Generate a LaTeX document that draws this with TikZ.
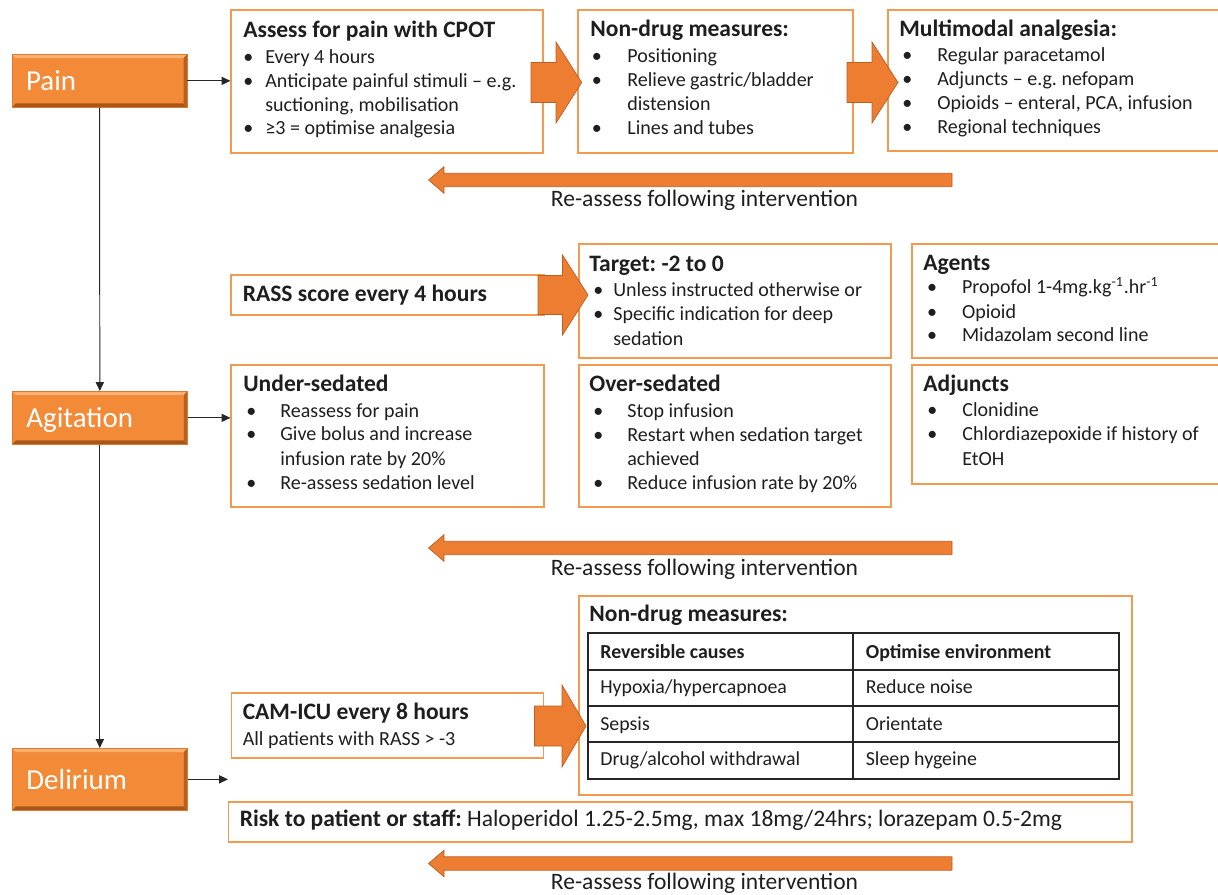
\documentclass[tikz,border=0pt]{standalone}
\usepackage{fontspec}
\setmainfont{Carlito}
\frenchspacing
\usetikzlibrary{arrows.meta,fit,calc}
\definecolor{rim}{HTML}{F39A52}
\definecolor{blk}{HTML}{ED7D31}
\definecolor{blkedge}{HTML}{B95F22}
\definecolor{tagmid}{HTML}{F28A38}
\definecolor{taghi}{HTML}{F8B070}
\definecolor{taglo}{HTML}{A9561B}
\definecolor{ink}{HTML}{1E1E1E}
\tikzset{
  panel/.style={draw=rim, line width=0.7pt, inner sep=0pt},
  tag/.style={draw=tagmid!70!taglo, line width=0.4pt, fill=tagmid,
    path picture={
      \fill[taghi] (path picture bounding box.north west) -- (path picture bounding box.north east)
        -- ([shift={(-2pt,-2.2pt)}]path picture bounding box.north east)
        -- ([shift={(2pt,-2.2pt)}]path picture bounding box.north west) -- cycle;
      \fill[taglo] (path picture bounding box.south west) -- (path picture bounding box.south east)
        -- ([shift={(-2pt,2.2pt)}]path picture bounding box.south east)
        -- ([shift={(2pt,2.2pt)}]path picture bounding box.south west) -- cycle;
      \fill[taglo!80!tagmid] (path picture bounding box.north east) -- (path picture bounding box.south east)
        -- ([shift={(-2pt,2.2pt)}]path picture bounding box.south east)
        -- ([shift={(-2pt,-2.2pt)}]path picture bounding box.north east) -- cycle;
    },
    text=white, anchor=north west, minimum width=3.5cm, inner xsep=0.28cm, inner ysep=0.21cm,
    text width=2.94cm, align=left, text height=0.52cm, text depth=0.12cm, font=\fontsize{16.5}{19}\selectfont},
  head/.style={anchor=base west, inner sep=0pt, text=ink, font=\fontsize{13.4}{15}\selectfont\bfseries},
  item/.style={anchor=base west, inner sep=0pt, text=ink, font=\fontsize{11.4}{13}\selectfont},
  cell/.style={anchor=base west, inner sep=0pt, text=ink, font=\fontsize{11.3}{13}\selectfont},
  note/.style={anchor=base, inner sep=0pt, text=ink, font=\fontsize{13.4}{15}\selectfont},
  link/.style={-{Triangle[length=5pt,width=4.6pt]}, line width=0.55pt, black!85},
  grid/.style={line width=0.8pt, black!85},
  fat/.style={fill=blk, draw=blkedge, line width=0.4pt, line join=miter},
}
% block arrow: tail x, head base x, tip x, mid y, shaft half, head half
\newcommand{\fatarrow}[6]{%
  \filldraw[fat] (#1,#4-#5) -- (#2,#4-#5) -- (#2,#4-#6) -- (#3,#4) -- (#2,#4+#6)
    -- (#2,#4+#5) -- (#1,#4+#5) -- cycle;}
% bullet list: name, bullet x, text x, {y/bullet?/text,...}
\newcommand{\items}[4]{%
  \foreach \y/\b/\t [count=\i] in {#4} {%
    \ifnum\b=1 \node[item] (#1b\i) at (#2,\y) {\textbullet};\fi
    \node[item] (#1\i) at (#3,\y) {\t};
  }}

\begin{document}
\begin{tikzpicture}[x=0.02cm,y=-0.02cm]
  \useasboundingbox (0,0) rectangle (1218,894);

  % left column
  \node[tag] (pain) at (11.7,54) {Pain};
  \node[tag] (agit) at (12,391) {Agitation};
  \node[tag, minimum height=1.24cm] (delir) at (12,748) {Delirium};
  \coordinate (delend) at (228,778);

  % panels
  \node[panel, fit={(231,10) (543,153)}] (assess) {};
  \node[panel, fit={(578,10) (853,153)}] (nondrug) {};
  \node[panel, fit={(888,10) (1225,151)}] (multi) {};
  \node[panel, fit={(231,275) (544,315)}] (rass) {};
  \node[panel, fit={(579,244) (891,358)}] (target) {};
  \node[panel, fit={(912,244) (1225,358)}] (agents) {};
  \node[panel, fit={(231,365) (544,507)}] (under) {};
  \node[panel, fit={(579,365) (891,507)}] (over) {};
  \node[panel, fit={(912,365) (1225,484)}] (adjuncts) {};
  \node[panel, fit={(579,596) (1132,795)}] (delnd) {};
  \node[panel, fit={(231.5,693) (543.6,758)}] (cam) {};
  \node[panel, fit={(228.5,802) (1132,842)}] (risk) {};

  \draw[link] (pain.south) -- (agit.north);
  \draw[link] (agit.south) -- (delir.north);
  \draw[link] (pain.east) -- (pain.east -| assess.west);
  \draw[link] (agit.east) -- (agit.east -| under.west);
  \draw[link] (delir.east) -- (delir.east -| delend);

  % pain row
  \node[head] (assessH) at (243,37) {Assess for pain with CPOT};
  \items{as}{243}{265}{63/1/Every 4 hours, 87/1/Anticipate painful stimuli – e.g.,
    {111/0/suctioning, mobilisation}, 134/1/≥3 = optimise analgesia}
  \node[head] (nondrugH) at (590,36) {Non-drug measures:};
  \items{nd}{591.5}{627}{62/1/Positioning, 86/1/{Relieve gastric/bladder},
    110/0/distension, 134/1/Lines and tubes}
  \node[head] (multiH) at (899,36) {Multimodal analgesia:};
  \items{mm}{902}{937}{61/1/Regular paracetamol, 85/1/Adjuncts – e.g. nefopam,
    {109/1/Opioids – enteral, PCA, infusion}, 133/1/Regional techniques}
  \fatarrow{531}{556}{581.7}{82.5}{20}{40.5}
  \fatarrow{847}{872}{898}{82.5}{20}{40.5}
  \fatarrow{952}{444}{428.6}{180}{6.7}{13.3}
  \node[note] (re1) at (704.5,206.7) {Re-assess following intervention};

  % agitation rows
  \node[head] (rassH) at (242.4,301.7) {RASS score every 4 hours};
  \node[head] (targetH) at (589,271.7) {Target: -2 to 0};
  \items{tg}{593}{613}{296.7/1/Unless instructed otherwise or,
    320.7/1/Specific indication for deep, 345/0/sedation}
  \node[head] (agentsH) at (923,270) {Agents};
  \items{ag}{926.7}{961.7}{293.3/1/Propofol 1-4mg.kg\textsuperscript{-1}.hr\textsuperscript{-1},
    318/1/Opioid, 341.7/1/Midazolam second line}
  \node[head] (underH) at (243,391.7) {Under-sedated};
  \items{us}{246}{280}{417/1/Reassess for pain, 440.7/1/Give bolus and increase,
    465/0/infusion rate by 20\%, 489.3/1/Re-assess sedation level}
  \node[head] (overH) at (589,391.7) {Over-sedated};
  \items{os}{593}{627}{417/1/Stop infusion, 441/1/Restart when sedation target,
    465/0/achieved, 489/1/Reduce infusion rate by 20\%}
  \node[head] (adjunctsH) at (923,391.7) {Adjuncts};
  \items{aj}{927}{962}{416/1/Clonidine, 440.7/1/Chlordiazepoxide if history of, 465/0/EtOH}
  \fatarrow{538}{562.5}{588}{295}{19.5}{40}
  \fatarrow{952}{444}{428.6}{548}{6.7}{13.3}
  \node[note] (re2) at (704.5,575.7) {Re-assess following intervention};

  % delirium rows
  \node[head] (delndH) at (589,621.7) {Non-drug measures:};
  \draw[grid] (588,633) rectangle (1119,779);
  \foreach \y in {670,706,742} \draw[grid] (588,\y) -- (1119,\y);
  \draw[grid] (853,633) -- (853,779);
  \foreach \y/\a/\b [count=\i] in {658/\textbf{Reversible causes}/\textbf{Optimise environment},
    693/{Hypoxia/hypercapnoea}/Reduce noise, 730/Sepsis/Orientate,
    765/{Drug/alcohol withdrawal}/Sleep hygeine} {
    \node[cell] (tl\i) at (600,\y) {\a};
    \node[cell] (tr\i) at (865.5,\y) {\b};
  }
  \node[head] (camH) at (242.4,719.3) {CAM-ICU every 8 hours};
  \node[item] (camL) at (242.4,745) {All patients with RASS > -3};
  \fatarrow{534.5}{562}{586}{726}{20}{41}
  \node[note, anchor=base west] (riskL) at (239.4,826.7)
    {\textbf{Risk to patient or staff:} Haloperidol 1.25-2.5mg, max 18mg/24hrs; lorazepam 0.5-2mg};
  \fatarrow{952}{444}{428.6}{863.5}{6.7}{13.3}
  \node[note] (re3) at (704.5,889) {Re-assess following intervention};
\end{tikzpicture}
\end{document}
